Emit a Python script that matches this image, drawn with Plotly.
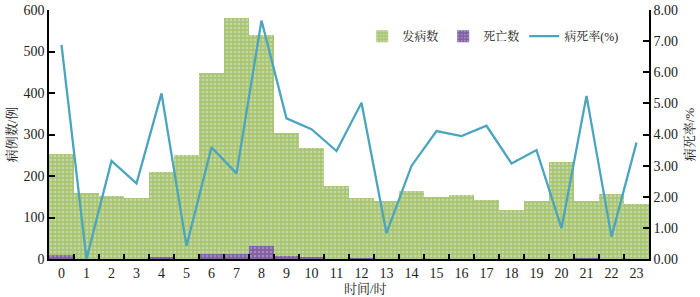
import plotly.graph_objects as go

hours = [str(h) for h in range(24)]
cases = [252, 158, 153, 148, 209, 250, 449, 581, 540, 303, 267, 176,
         147, 140, 164, 149, 154, 142, 117, 140, 233, 140, 157, 132]
deaths = [10, 0, 0, 0, 5, 0, 11, 11, 32, 8, 5, 0,
          1, 0, 0, 0, 0, 0, 0, 0, 0, 1, 0, 0]
rate = [6.88, 0.00, 3.15, 2.43, 5.32, 0.42, 3.59, 2.75, 7.66, 4.52, 4.17, 3.47,
        5.02, 0.83, 2.99, 4.11, 3.95, 4.28, 3.07, 3.50, 0.99, 5.24, 0.72, 3.74]

FONT = '"Liberation Serif", "Times New Roman", "Noto Serif CJK SC", "Noto Sans CJK SC", serif'

fig = go.Figure()
fig.add_trace(go.Bar(
    x=hours, y=cases, name="发病数", width=1,
    marker=dict(color="#a9c574", line=dict(width=0),
                pattern=dict(shape=".", fgcolor="#e2edcf", size=4, solidity=0.35)),
))
fig.add_trace(go.Bar(
    x=hours, y=deaths, name="死亡数", width=1,
    marker=dict(color="#7f5fa0", line=dict(width=0),
                pattern=dict(shape=".", fgcolor="#c9b8dc", size=4, solidity=0.35)),
))
fig.add_trace(go.Scatter(
    x=hours, y=rate, name="病死率(%)", yaxis="y2", mode="lines",
    line=dict(color="#4ba5be", width=2.3),
))

axis_common = dict(showline=True, linecolor="black", linewidth=1.5,
                   ticks="inside", tickcolor="black", tickwidth=1.5,
                   showgrid=False, zeroline=False, automargin=False,
                   tickfont=dict(size=14, color="#222"))

fig.update_layout(
    width=700, height=297,
    margin=dict(l=49, r=51, t=10, b=38),
    paper_bgcolor="white", plot_bgcolor="white",
    barmode="overlay", bargap=0,
    font=dict(family=FONT, size=13, color="#222"),
    showlegend=True,
    legend=dict(orientation="h", x=0.522, y=0.895, xanchor="left", yanchor="middle",
                bgcolor="rgba(0,0,0,0)", font=dict(size=12), itemwidth=30,
                tracegroupgap=0),
    xaxis=dict(type="category", tickson="boundaries", ticklen=5, **axis_common),
    yaxis=dict(range=[0, 600], dtick=100, ticklen=6, **axis_common),
    yaxis2=dict(range=[0, 8], dtick=1, tickformat=".2f", overlaying="y", side="right",
                ticklen=6, **axis_common),
    annotations=[
        dict(text="时间/时", xref="paper", yref="paper", x=0.528, y=-0.118,
             xanchor="center", yanchor="middle", showarrow=False, font=dict(size=13)),
        dict(text="病例数/例", xref="paper", x=-0.062, xanchor="center",
             yref="paper", y=0.5, yanchor="middle", textangle=-90,
             showarrow=False, font=dict(size=13)),
        dict(text="病死率/%", xref="paper", x=1.068, xanchor="center",
             yref="paper", y=0.5, yanchor="middle", textangle=-90,
             showarrow=False, font=dict(size=13)),
    ],
)

# remove the browser's default 8px page margin so the figure sits at (0, 0)
fig.write_html("out.html",
               config={"displayModeBar": False},
               post_script="document.body.style.margin='0';document.body.style.overflow='hidden';")
